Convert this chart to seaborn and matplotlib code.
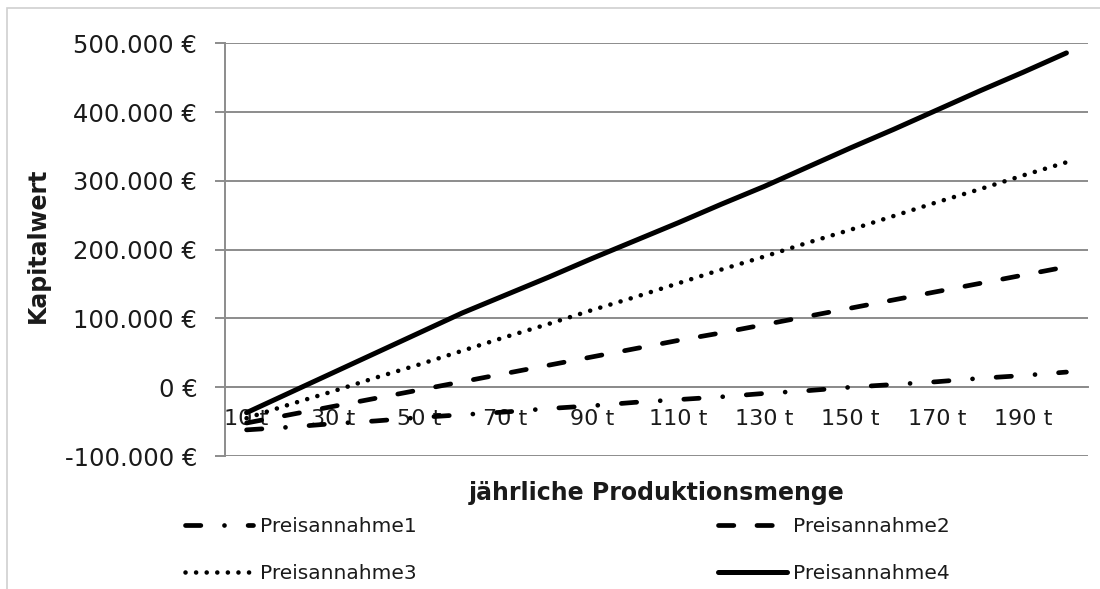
import matplotlib
matplotlib.use("Agg")
import matplotlib.pyplot as plt
from matplotlib.ticker import FuncFormatter, MultipleLocator
from matplotlib.patches import Rectangle
import pandas as pd
import seaborn as sns

# Jährliche Produktionsmenge in Tonnen
mengen = [10, 20, 30, 40, 50, 60, 70, 80, 90, 100,
          110, 120, 130, 140, 150, 160, 170, 180, 190, 200]
mengen_labels = [f"{m} t" for m in mengen]

# Kapitalwert je Preisannahme in Euro
preisannahme1 = [-62000, -58000, -53000, -49000, -44000, -40000, -36000, -31000, -27000, -22000,
                 -18000, -14000, -9000, -5000, 0, 4000, 8000, 13000, 17000, 22000]
preisannahme2 = [-52000, -40000, -28000, -16000, -4000, 8000, 20000, 32000, 44000, 56000,
                 68000, 79000, 91000, 103000, 115000, 127000, 139000, 151000, 163000, 175000]
preisannahme3 = [-45000, -25000, -6000, 14000, 33000, 53000, 73000, 92000, 112000, 131000,
                 151000, 171000, 190000, 210000, 229000, 249000, 269000, 288000, 308000, 327000]
preisannahme4 = [-37000, -8000, 21000, 50000, 79000, 108000, 134000, 160000, 187000, 213000,
                 239000, 266000, 292000, 320000, 348000, 375000, 403000, 431000, 458000, 486000]

serien = ["Preisannahme1", "Preisannahme2", "Preisannahme3", "Preisannahme4"]
werte = [preisannahme1, preisannahme2, preisannahme3, preisannahme4]

rows = []
for name, vals in zip(serien, werte):
    for pos, v in enumerate(vals):
        rows.append({"serie": name, "pos": pos, "wert": v})
df = pd.DataFrame(rows)

sns.set_theme(style="white")
plt.rcParams["font.family"] = ["DejaVu Sans"]

W, H = 1100, 589
fig = plt.figure(figsize=(W / 100, H / 100), dpi=100)
fig.patch.set_facecolor("white")

# light frame of the chart area (left and top edge)
fig.add_artist(Rectangle((6.5 / W, -0.05), 1.2, 1 - 8 / H + 0.05,
                         transform=fig.transFigure, fill=False,
                         edgecolor="#d0d0d0", linewidth=1.2, zorder=0))

ax = fig.add_axes([225 / W, 1 - 456 / H, (1088 - 225) / W, (456 - 43.3) / H])

linien = {
    "Preisannahme1": dict(lw=3.4, linestyle=(0, (3.25, 5.0, 0.01, 5.0))),
    "Preisannahme2": dict(lw=3.4, linestyle=(0, (3.25, 4.9))),
    "Preisannahme3": dict(lw=3.3, linestyle=(0, (0.01, 2.3))),
    "Preisannahme4": dict(lw=3.6, linestyle="-"),
}

for name in serien:
    sub = df[df["serie"] == name]
    sns.lineplot(data=sub, x="pos", y="wert", ax=ax, color="black",
                 label=name, dash_capstyle="round", solid_capstyle="round",
                 zorder=3, **linien[name])

grau = "#8c8c8c"
ax.set_xlim(-0.5, len(mengen) - 0.5)
ax.set_ylim(-100000, 500000)
ax.yaxis.set_major_locator(MultipleLocator(100000))
ax.yaxis.set_major_formatter(
    FuncFormatter(lambda v, _: f"{v:,.0f}".replace(",", ".") + " €"))
ax.grid(axis="y", color=grau, linewidth=1.4, zorder=0)
ax.grid(axis="x", visible=False)

ax.spines["top"].set_visible(False)
ax.spines["right"].set_visible(False)
ax.spines["left"].set_color(grau)
ax.spines["left"].set_linewidth(1.4)
ax.spines["bottom"].set_position(("data", 0))
ax.spines["bottom"].set_color(grau)
ax.spines["bottom"].set_linewidth(1.4)

ax.set_xticks(range(0, len(mengen), 2))
ax.set_xticklabels(mengen_labels[::2])
ax.tick_params(axis="x", length=0, pad=16, labelsize=16, labelcolor="#1a1a1a")
ax.tick_params(axis="y", left=True, length=7, width=1.4, color=grau, pad=13,
               labelsize=17.5, labelcolor="#1a1a1a")

ax.set_xlabel("jährliche Produktionsmenge", fontsize=17, fontweight="bold",
              color="#1a1a1a")
ax.xaxis.set_label_coords(0.5, -0.06)
ax.set_ylabel("Kapitalwert", fontsize=17, fontweight="bold", color="#1a1a1a")
ax.yaxis.set_label_coords(-0.203, 0.51)

# legend filled row by row: 1 | 2 on top, 3 | 4 below
handles, labels = ax.get_legend_handles_labels()
ax.get_legend().remove()
order = [0, 2, 1, 3]
fig.legend([handles[i] for i in order], [labels[i] for i in order],
           ncol=2, loc="center left",
           bbox_to_anchor=(185 / W, 1 - 550 / H), frameon=False,
           fontsize=14.5, handlelength=3.4, handletextpad=0.3,
           columnspacing=15.0, labelspacing=1.35, borderpad=0,
           borderaxespad=0, labelcolor="#1a1a1a")

fig.savefig("out.png", dpi=100, facecolor="white")
